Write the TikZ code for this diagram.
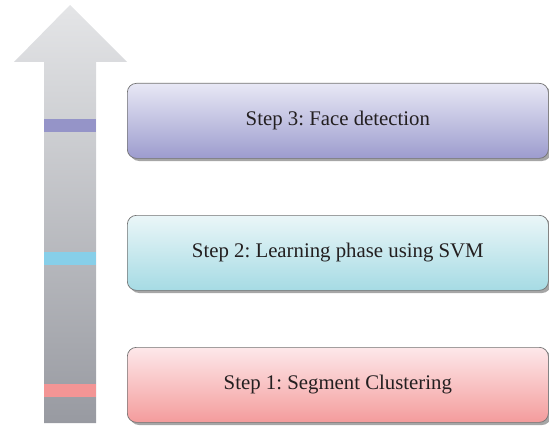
\documentclass[tikz,border=0pt]{standalone}
\usepackage{fontspec}
\setmainfont{Liberation Serif}
\begin{document}
\frenchspacing
\begin{tikzpicture}[x=1pt,y=-1pt,
  stepbox/.style={draw=black!55, line width=0.7pt, rounded corners=9pt, minimum width=421pt, minimum height=75pt, anchor=north west, font=\fontsize{20.8}{24}\selectfont, text={rgb,255:red,35;green,31;blue,32}, inner sep=0pt},
  shadowbox/.style={fill=black!35, rounded corners=9pt}]
\useasboundingbox (0,0) rectangle (549,428);
% arrow
\shade[top color={rgb,255:red,228;green,229;blue,231}, bottom color={rgb,255:red,152;green,154;blue,161}]
  (70,5) -- (127,62) -- (96,62) -- (96,423) -- (44,423) -- (44,62) -- (14,62) -- cycle;
\fill[fill={rgb,255:red,149;green,148;blue,200}] (44,119) rectangle (96,132);
\fill[fill={rgb,255:red,135;green,207;blue,233}] (44,252) rectangle (96,265);
\fill[fill={rgb,255:red,243;green,149;blue,149}] (44,384) rectangle (96,397);
% shadows
\fill[shadowbox] (130,86) rectangle (551,161);
\fill[shadowbox] (130,218) rectangle (551,293);
\fill[shadowbox] (130,350) rectangle (551,425);
% boxes
\node[stepbox, top color={rgb,255:red,232;green,232;blue,245}, bottom color={rgb,255:red,157;green,156;blue,206}] (s3) at (127,83) {Step 3: Face detection};
\node[stepbox, top color={rgb,255:red,234;green,246;blue,248}, bottom color={rgb,255:red,166;green,219;blue,228}] (s2) at (127,215) {Step 2: Learning phase using SVM};
\node[stepbox, top color={rgb,255:red,253;green,232;blue,234}, bottom color={rgb,255:red,244;green,156;blue,156}] (s1) at (127,347) {Step 1: Segment Clustering};
\end{tikzpicture}
\end{document}
